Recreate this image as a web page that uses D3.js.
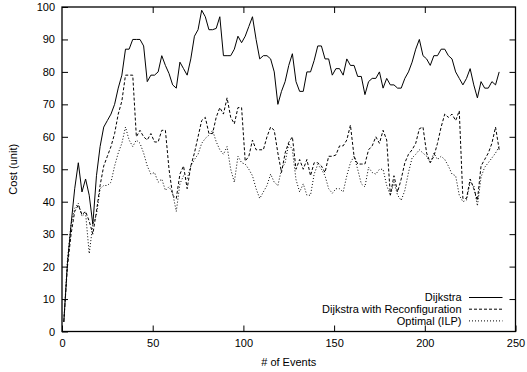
<!DOCTYPE html>
<html>
<head>
<meta charset="utf-8">
<script src="https://cdn.jsdelivr.net/npm/d3@7"></script>
<style>
  html, body { margin: 0; padding: 0; background: #fff; }
  svg { display: block; font-family: "Liberation Sans", Arial, Helvetica, sans-serif; }
  .axis text { font-size: 11px; fill: #000; }
  .axis line { stroke: #000; stroke-width: 1; }
  .axis path { display: none; }
</style>
</head>
<body>
<svg id="chart" width="527" height="372"></svg>
<script>
// Event index of each sample
const events = d3.range(1, 242, 2);

// Path cost per event, one array per routing strategy
const dijkstra = [
  3, 21, 33, 44, 52, 43, 47, 42, 33, 48,
  57, 63, 65, 67, 70, 75, 79, 87, 87, 90,
  90, 90, 88, 77, 79, 79, 80, 85, 82, 79.5,
  76, 75, 83, 81, 79, 84, 91, 93, 99, 97,
  93, 93, 93.4, 97, 85, 85, 85, 87, 91, 89,
  91, 94, 97, 90, 84, 85, 85, 84, 80, 70,
  74, 77, 82, 85.6, 77, 74, 74, 80, 80, 83.5,
  88, 88, 84, 84, 79, 81, 81, 79, 84, 82,
  82, 78.6, 78.6, 73, 77, 78, 78, 80, 75, 78,
  76, 76, 75, 75, 78, 80, 83, 87, 90, 85,
  84, 82, 85, 85, 87, 87, 85, 84, 80, 78,
  76, 78, 81, 76, 72, 77, 75, 75, 77, 76,
  80
];

const dijkstraReconf = [
  3, 20, 30, 37, 39, 36, 37, 34, 30, 37,
  45, 51, 54, 57, 61, 67, 71, 79, 79, 79,
  60, 62, 60, 59, 61, 58.4, 58.4, 62, 62, 50,
  42, 41, 48.5, 51, 44, 51, 55, 60, 65, 66,
  61, 61, 66, 69, 67, 72, 66, 64, 69, 69,
  52.5, 54, 59, 56, 56, 56, 60, 63, 62, 55,
  49, 55, 58.3, 60, 50, 53, 50, 53, 48, 52,
  52, 51, 49, 54, 54, 54.4, 57.2, 57.2, 59, 63.6,
  54, 51.6, 51.6, 51.6, 56, 57.2, 60, 58, 62, 59,
  42, 48, 43, 47, 52, 54.6, 56, 58, 62.5, 63,
  55, 52, 54, 58, 63, 67, 66, 67, 65, 68,
  41, 41, 47, 44, 40.4, 51, 53, 55, 58, 63,
  56
];

const optimal = [
  3, 22, 33, 38, 39.5, 35.5, 36.5, 24, 33, 36,
  44, 45, 45, 46, 51, 55, 58, 63, 59, 57,
  59, 58, 55, 51, 48.5, 49, 46, 47, 43.5, 44.6,
  42.6, 37, 45.5, 48, 47, 51, 53, 54.6, 58, 59.5,
  60.5, 62, 58.5, 56, 54.6, 57, 50, 46, 54, 52,
  51.6, 50, 48, 44, 41, 43, 45, 48.5, 46, 45,
  50, 52, 58, 56, 46.8, 43, 45.5, 42, 42, 48.5,
  51.5, 50, 48, 44, 42.6, 44, 44, 43, 48, 52,
  54, 50, 45.5, 44.6, 50.6, 49, 48.5, 50, 50, 45,
  42, 46, 42, 40.4, 43.5, 49, 53.5, 54.6, 56, 55,
  54, 52, 55, 53, 54, 53, 51, 48.5, 48, 42,
  40, 40.5, 46, 45, 38.7, 47.6, 50.6, 52, 53.5, 55,
  57
];

const seriesNames = ["Dijkstra", "Dijkstra with Reconfiguration", "Optimal (ILP)"];
const seriesDash = ["none", "3,2", "1,2"];
const seriesValues = [dijkstra, dijkstraReconf, optimal];

const xTicks = [0, 50, 100, 150, 200, 250];
const yTicks = [0, 10, 20, 30, 40, 50, 60, 70, 80, 90, 100];

const svg = d3.select("#chart");
const plotLeft = 62, plotRight = 515.5, plotTop = 7, plotBottom = 331.5;

const x = d3.scaleLinear().domain([0, 250]).range([plotLeft, plotRight]);
const y = d3.scaleLinear().domain([0, 100]).range([plotBottom, plotTop]);

// Axes with inward ticks on all four sides
svg.append("g").attr("class", "axis")
  .attr("transform", `translate(0,${plotBottom})`)
  .call(d3.axisBottom(x).tickValues(xTicks).tickSize(-6).tickPadding(8));
svg.append("g").attr("class", "axis")
  .attr("transform", `translate(0,${plotTop})`)
  .call(d3.axisTop(x).tickValues(xTicks.slice(1, -1)).tickSize(-6).tickFormat(""));
svg.append("g").attr("class", "axis")
  .attr("transform", `translate(${plotLeft},0)`)
  .call(d3.axisLeft(y).tickValues(yTicks).tickSize(-6).tickPadding(7));
svg.append("g").attr("class", "axis")
  .attr("transform", `translate(${plotRight},0)`)
  .call(d3.axisRight(y).tickValues(yTicks.slice(1, -1)).tickSize(-6).tickFormat(""));

// Plot frame
svg.append("rect")
  .attr("x", plotLeft).attr("y", plotTop)
  .attr("width", plotRight - plotLeft).attr("height", plotBottom - plotTop)
  .attr("fill", "none").attr("stroke", "#000").attr("stroke-width", 1.3);

// Series lines
const line = d3.line()
  .x((d, i) => x(events[i]))
  .y(d => y(d));

seriesValues.forEach((vals, k) => {
  svg.append("path")
    .datum(vals)
    .attr("d", line)
    .attr("fill", "none")
    .attr("stroke", "#000")
    .attr("stroke-width", 1)
    .attr("stroke-dasharray", seriesDash[k]);
});

// Axis titles
svg.append("text")
  .attr("x", (plotLeft + plotRight) / 2).attr("y", 366)
  .attr("text-anchor", "middle").attr("font-size", 11)
  .text("# of Events");
svg.append("text")
  .attr("transform", `translate(17,${(plotTop + plotBottom) / 2}) rotate(-90)`)
  .attr("text-anchor", "middle").attr("font-size", 11)
  .text("Cost (unit)");

// Legend, bottom right inside the frame
const legend = svg.append("g");
seriesNames.forEach((name, k) => {
  const ly = 297.5 + k * 11.7;
  legend.append("text")
    .attr("x", 461.5).attr("y", ly).attr("dy", "0.35em")
    .attr("text-anchor", "end").attr("font-size", 11)
    .text(name);
  legend.append("line")
    .attr("x1", 469).attr("x2", 502.5)
    .attr("y1", ly).attr("y2", ly)
    .attr("stroke", "#000").attr("stroke-width", 1)
    .attr("stroke-dasharray", seriesDash[k]);
});
</script>
</body>
</html>
